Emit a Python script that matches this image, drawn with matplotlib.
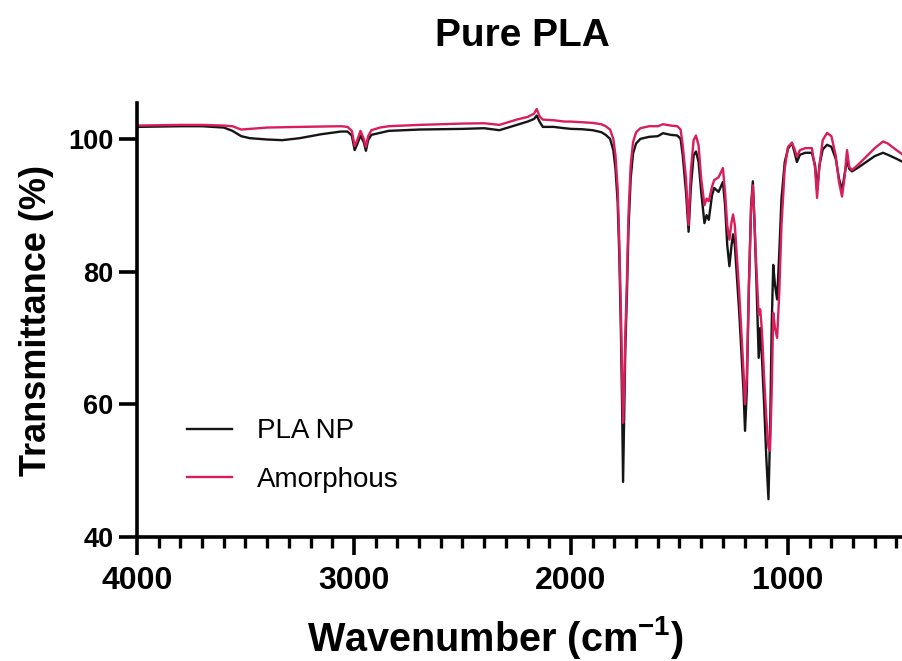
import matplotlib
matplotlib.use("Agg")
import matplotlib.pyplot as plt
from matplotlib.ticker import MultipleLocator

plt.rcParams['font.family'] = ['Liberation Sans', 'DejaVu Sans']
plt.rcParams['mathtext.fontset'] = 'custom'
plt.rcParams['mathtext.rm'] = 'Liberation Sans'
plt.rcParams['mathtext.bf'] = 'Liberation Sans:bold'

wavenumber = [4000, 3900, 3800, 3700, 3600, 3560, 3520, 3480, 3400, 3330, 3250, 3150, 3060, 3030, 3010,
              2997, 2985, 2970, 2955, 2945, 2935, 2920, 2880, 2840, 2700, 2500, 2400, 2330, 2300, 2250,
              2200, 2170, 2158, 2145, 2130, 2080, 2030, 2000, 1950, 1900, 1860, 1840, 1820, 1805, 1795,
              1785, 1777, 1770, 1765, 1760, 1755, 1750, 1742, 1735, 1725, 1714, 1700, 1680, 1640, 1600,
              1576, 1540, 1510, 1495, 1485, 1470, 1458, 1448, 1435, 1424, 1412, 1400, 1385, 1375, 1365,
              1350, 1340, 1320, 1300, 1290, 1280, 1270, 1260, 1253, 1245, 1235, 1225, 1215, 1205, 1198,
              1190, 1180, 1170, 1162, 1155, 1145, 1135, 1128, 1120, 1110, 1100, 1090, 1083, 1075, 1068,
              1060, 1050, 1040, 1030, 1015, 1000, 982, 970, 959, 945, 920, 890, 875, 866, 855,
              840, 820, 800, 780, 765, 751, 740, 728, 718, 705, 680, 640, 600, 562, 540,
              500, 470]

pla_np = [101.8, 101.85, 101.9, 101.9, 101.7, 101.2, 100.4, 100.1, 99.9, 99.8, 100.1, 100.7, 101.1, 101.1, 100.5,
          98.3, 99.2, 100.5, 99.5, 98.2, 99.8, 100.6, 100.9, 101.2, 101.4, 101.5, 101.6, 101.3, 101.6, 102.1,
          102.6, 103.0, 103.5, 102.6, 101.8, 101.8, 101.6, 101.5, 101.45, 101.3, 101.0, 100.6, 100.0, 98.3, 95.5,
          90.5, 82.0, 71.0, 61.0, 48.3, 58.0, 68.0, 77.0, 86.5, 94.0, 97.8, 99.3, 100.0, 100.3, 100.4,
          100.85, 100.6, 100.5, 100.0, 97.5, 92.0, 86.0, 92.5, 97.5, 98.1, 96.5, 92.0, 87.3, 88.5, 87.8,
          91.5, 92.6, 92.0, 93.5, 90.0, 84.0, 80.8, 84.0, 85.6, 84.0, 79.0, 74.0, 68.0, 62.0, 56.0,
          62.0, 78.0, 90.0, 93.6, 88.0, 78.0, 67.0, 71.5, 67.0, 60.0, 52.0, 45.7, 55.0, 72.0, 81.0,
          78.0, 75.8, 83.0, 91.0, 96.5, 98.5, 99.4, 98.0, 96.5, 97.6, 97.9, 97.9, 96.0, 92.3, 96.0,
          98.4, 99.1, 98.8, 97.0, 94.0, 92.3, 94.5, 96.8, 95.5, 95.1, 95.6, 96.5, 97.4, 97.9, 97.6,
          97.0, 96.5]

amorphous = [102.0, 102.05, 102.1, 102.1, 102.0, 101.9, 101.4, 101.5, 101.7, 101.75, 101.8, 101.85, 101.9, 101.8, 101.2,
             98.9, 99.8, 101.2, 100.0, 98.8, 100.4, 101.3, 101.7, 101.9, 102.1, 102.3, 102.35, 102.1, 102.4, 102.9,
             103.3, 103.8, 104.5, 103.4, 102.9, 102.8, 102.6, 102.6, 102.5, 102.4, 102.2, 101.9, 101.4, 100.0, 97.5,
             92.5, 84.0, 74.0, 65.0, 57.2, 62.0, 70.0, 79.0, 88.5, 96.0, 99.5, 101.0, 101.6, 101.9, 101.9,
             102.2, 102.0, 101.9, 101.4, 99.0, 94.0, 87.0, 95.0, 99.8, 100.5, 99.0, 94.0, 90.0, 91.0, 90.6,
             92.8, 93.8, 94.2, 95.6, 92.0, 87.0, 84.8, 87.5, 88.6, 87.0, 82.0, 77.0, 71.0, 65.0, 60.0,
             64.0, 78.0, 89.5, 93.0, 88.0, 80.0, 73.5, 74.3, 71.0, 64.0, 58.0, 53.5, 53.0, 62.0, 73.8,
             71.5, 70.0, 77.0, 87.0, 95.5, 98.8, 99.4, 98.5, 97.3, 98.3, 98.6, 98.6, 95.5, 91.1, 96.0,
             99.8, 100.9, 100.4, 97.5, 93.5, 91.3, 94.0, 98.3, 95.8, 95.3, 96.0, 97.3, 98.6, 99.6, 99.3,
             98.3, 97.6]

series_labels = ["PLA NP", "Amorphous"]
x_ticks = [4000, 3000, 2000, 1000]
y_ticks = [40, 60, 80, 100]

fig = plt.figure(figsize=(9.03, 6.61), dpi=100)
ax = fig.add_axes([137/903, 124/661, 766/903, 434/661])

ax.plot(wavenumber, pla_np, color='#151515', lw=1.7, label=series_labels[0])
ax.plot(wavenumber, amorphous, color='#d81e5b', lw=1.7, label=series_labels[1])

ax.set_xlim(4000, 470)
ax.set_ylim(40, 105.4)
ax.set_xticks(x_ticks)
ax.set_yticks(y_ticks)
ax.xaxis.set_minor_locator(MultipleLocator(100))

for s in ['top', 'right']:
    ax.spines[s].set_visible(False)
for s in ['left', 'bottom']:
    ax.spines[s].set_linewidth(2.6)

ax.tick_params(axis='both', which='major', length=13, width=2.6, direction='out')
ax.tick_params(axis='x', which='minor', length=8, width=2.4, direction='out')
ax.tick_params(axis='x', which='major', pad=8, labelsize=23)
ax.tick_params(axis='y', which='major', pad=4, labelsize=19.5)
for lab in ax.get_xticklabels() + ax.get_yticklabels():
    lab.set_fontweight('bold')

ax.set_xlabel('Wavenumber (cm$^{\\mathbf{-1}}$)', fontsize=28.5, fontweight='bold')
ax.xaxis.label.set_va('baseline')
ax.xaxis.set_label_coords((495 - 137) / 766, (537 - 651) / 434)
ax.set_ylabel('Transmittance (%)', fontsize=26, fontweight='bold', labelpad=10)
fig.suptitle('Pure PLA', x=522/903, y=1 - 18/661, fontsize=28, fontweight='bold', va='top')

leg = ax.legend(loc='center left', bbox_to_anchor=(0.051, 0.188), frameon=False, fontsize=20,
                handlelength=1.6, handletextpad=0.9, labelspacing=0.8, borderaxespad=0)

fig.savefig('out.png', dpi=100)
